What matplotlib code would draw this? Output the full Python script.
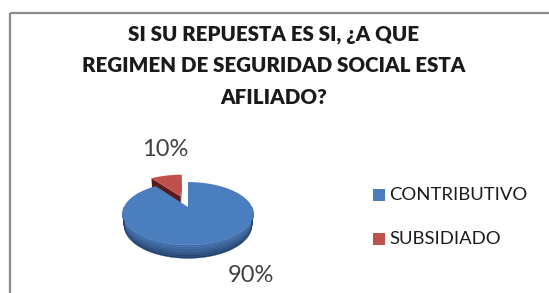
import numpy as np
import matplotlib.pyplot as plt
from matplotlib.patches import Polygon, Rectangle

title = 'SI SU REPUESTA ES SI, ¿A QUE\nREGIMEN DE SEGURIDAD SOCIAL ESTA\nAFILIADO?'
categories = ['CONTRIBUTIVO', 'SUBSIDIADO']
values = [90, 10]
pct_labels = ['90%', '10%']
colors = ['#4A7EBF', '#C0504D']
side_top = ['#3F6DAA', '#8E2E2B']
side_bot = ['#1F3F6E', '#5A1A18']
explode = [0.0, 0.4]

# pie geometry: screen center (pixels, y down), perspective camera
cx, cy = 188, 207
elev = np.radians(28)
cam_d, focal, thick = 4.28, 274, 0.21
label_pos = [(251, 276), (165, 150)]

fig = plt.figure(figsize=(5.49, 2.93), dpi=100)
ax = fig.add_axes([0, 0, 1, 1])
ax.set_xlim(0, 549)
ax.set_ylim(293, 0)
ax.axis('off')

ax.add_patch(Rectangle((10, 13), 600, 300, fill=False, edgecolor='#8c8c8c', lw=1.6))


def proj(X, Y, Z):
    d = cam_d + Y * np.cos(elev) - Z * np.sin(elev)
    up = Y * np.sin(elev) + Z * np.cos(elev)
    return cx + X * focal / d, cy - up * focal / d


def rim(t, ox, oy, z=0.0, r=1.0):
    return proj(ox + r * np.sin(t), oy + r * np.cos(t), z)


fracs = np.array(values, dtype=float) / sum(values)
bounds = np.concatenate([[0], np.cumsum(fracs)]) * 2 * np.pi

# back slices first
order = np.argsort([-np.cos((bounds[i] + bounds[i + 1]) / 2) for i in range(len(values))])
for i in order:
    t0, t1 = bounds[i], bounds[i + 1]
    mid = (t0 + t1) / 2
    ox = explode[i] * np.sin(mid)
    oy = explode[i] * np.cos(mid)
    c_top = proj(ox, oy, 0)
    c_bot = proj(ox, oy, -thick)
    if explode[i] > 0:
        # radial cut faces of the exploded slice
        for t in (t1, t0):
            ax.add_patch(Polygon([c_top, rim(t, ox, oy), rim(t, ox, oy, -thick), c_bot],
                                 closed=True, facecolor=side_bot[i], edgecolor='none'))
    a = max(t0, np.pi / 2)
    b = min(t1, 3 * np.pi / 2)
    if b > a:
        ts = np.linspace(a, b, 100)
        n = 8
        zs = np.linspace(0, -thick, n + 1)
        c1 = np.array(plt.matplotlib.colors.to_rgb(side_top[i]))
        c2 = np.array(plt.matplotlib.colors.to_rgb(side_bot[i]))
        for k in range(n):
            top = [rim(t, ox, oy, zs[k]) for t in ts]
            bot = [rim(t, ox, oy, zs[k + 1]) for t in ts[::-1]]
            col = c1 + (c2 - c1) * (k / (n - 1)) ** 1.3
            ax.add_patch(Polygon(top + bot, closed=True, facecolor=col,
                                 edgecolor=col, lw=0.3))
    ts = np.linspace(t0, t1, 150)
    ax.add_patch(Polygon([c_top] + [rim(t, ox, oy) for t in ts], closed=True,
                         facecolor=colors[i], edgecolor='none'))

for lab, (x, y) in zip(pct_labels, label_pos):
    ax.text(x, y, lab, ha='center', va='center', fontsize=17, color='#404040',
            family='Lato')

ax.text(274, 66, title, ha='center', va='center', fontsize=14.8, fontweight='heavy',
        color='#1a1a1a', family='Lato', linespacing=1.8)

leg_y = [195, 239]
for name, col, y in zip(categories, colors, leg_y):
    ax.add_patch(Rectangle((373, y - 6), 12, 12, facecolor=col, edgecolor='none'))
    ax.text(389, y, name, ha='left', va='center', fontsize=13.3, color='#1a1a1a',
            family='Lato')

fig.savefig('out.png', dpi=100)
